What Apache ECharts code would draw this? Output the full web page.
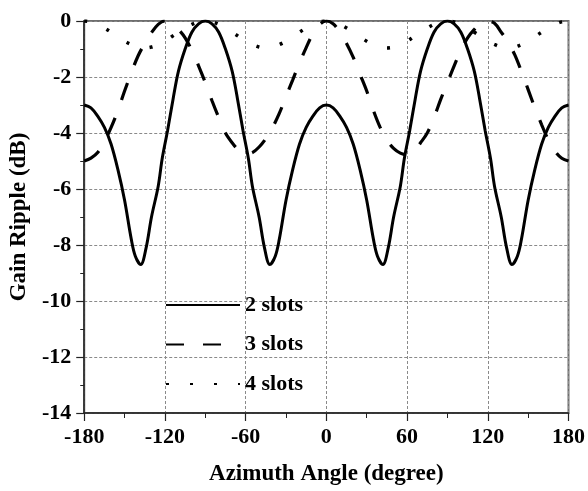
<!DOCTYPE html>
<html>
<head>
<meta charset="utf-8">
<script src="https://cdn.jsdelivr.net/npm/echarts@6/dist/echarts.min.js"></script>
<style>
  html, body { margin: 0; padding: 0; background: #fff; }
  #chart { width: 588px; height: 491px; }
</style>
</head>
<body>
<div id="chart"></div>
<script>
// angles (degree) for the 2-slot curve, denser near the dips
const angle2Slots = [
  -180, -175, -170, -165, -160, -155, -150, -145, -142, -138, -134, -130, -125, -122, -118, -114, -110, -105, -100, -95,
  -90, -85, -80, -75, -70, -66, -62, -58, -55, -50, -46, -42, -38, -35, -30, -25, -20, -15, -10, -5,
  0, 5, 10, 15, 20, 25, 30, 35, 38, 42, 46, 50, 55, 58, 62, 66, 70, 75, 80, 85,
  90, 95, 100, 105, 110, 114, 118, 122, 125, 130, 134, 138, 142, 145, 150, 155, 160, 165, 170, 175, 180
];
const ripple2Slots = [
  -3.0, -3.1, -3.4, -3.8, -4.4, -5.3, -6.4, -7.8, -8.4, -8.7, -8.1, -7.0, -5.9, -4.9, -3.9, -2.8, -1.8, -1.0, -0.4, -0.1,
  0, -0.1, -0.4, -1.0, -1.8, -2.8, -3.9, -4.9, -5.9, -7.0, -8.1, -8.7, -8.4, -7.8, -6.4, -5.3, -4.4, -3.8, -3.4, -3.1,
  -3.0, -3.1, -3.4, -3.8, -4.4, -5.3, -6.4, -7.8, -8.4, -8.7, -8.1, -7.0, -5.9, -4.9, -3.9, -2.8, -1.8, -1.0, -0.4, -0.1,
  0, -0.1, -0.4, -1.0, -1.8, -2.8, -3.9, -4.9, -5.9, -7.0, -8.1, -8.7, -8.4, -7.8, -6.4, -5.3, -4.4, -3.8, -3.4, -3.1, -3.0
];

// angles every 5 degree for the 3- and 4-slot curves
const angleStep5 = [
  -180, -175, -170, -165, -160, -155, -150, -145, -140, -135, -130, -125, -120, -115, -110, -105, -100, -95,
  -90, -85, -80, -75, -70, -65, -60, -55, -50, -45, -40, -35, -30, -25, -20, -15, -10, -5,
  0, 5, 10, 15, 20, 25, 30, 35, 40, 45, 50, 55, 60, 65, 70, 75, 80, 85,
  90, 95, 100, 105, 110, 115, 120, 125, 130, 135, 140, 145, 150, 155, 160, 165, 170, 175, 180
];
const ripple3Slots = [
  -5.0, -4.9, -4.7, -4.3, -3.8, -3.2, -2.5, -1.85, -1.25, -0.8, -0.42, -0.12, 0, -0.1, -0.3, -0.6, -1.05, -1.6,
  -2.2, -2.85, -3.45, -4.0, -4.35, -4.62, -4.75, -4.7, -4.5, -4.2, -3.8, -3.3, -2.7, -2.1, -1.5, -0.95, -0.45, -0.12,
  0, -0.1, -0.4, -0.8, -1.3, -1.9, -2.5, -3.2, -3.8, -4.25, -4.55, -4.72, -4.78, -4.65, -4.35, -4.0, -3.45, -2.8,
  -2.2, -1.6, -1.05, -0.6, -0.3, -0.08, 0, -0.08, -0.4, -0.75, -1.2, -1.8, -2.45, -3.1, -3.7, -4.25, -4.65, -4.9, -5.0
];
const ripple4Slots = [
  0, -0.03, -0.12, -0.25, -0.4, -0.56, -0.72, -0.84, -0.93, -0.96, -0.93, -0.84, -0.72, -0.56, -0.4, -0.25, -0.12, -0.03,
  0, -0.03, -0.12, -0.25, -0.4, -0.56, -0.72, -0.84, -0.93, -0.96, -0.93, -0.84, -0.72, -0.56, -0.4, -0.25, -0.12, -0.03,
  0, -0.03, -0.12, -0.25, -0.4, -0.56, -0.72, -0.84, -0.93, -0.96, -0.93, -0.84, -0.72, -0.56, -0.4, -0.25, -0.12, -0.03,
  0, -0.03, -0.12, -0.25, -0.4, -0.56, -0.72, -0.84, -0.93, -0.96, -0.93, -0.84, -0.72, -0.56, -0.4, -0.25, -0.12, -0.03, 0
];

const xTicks = [-180, 180, 60];
const yTicks = [-14, 0, 2];

const font = "'Liberation Serif', 'Times New Roman', serif";
const zip = (xs, ys) => xs.map((x, i) => [x, ys[i]]);

const chart = echarts.init(document.getElementById('chart'));

const gridLine = { show: true, lineStyle: { color: '#8a8a8a', width: 1, type: [3, 2] } };
const labelStyle = { fontFamily: font, fontWeight: 'bold', fontSize: 22, color: '#000' };

const option = {
  animation: false,
  backgroundColor: '#fff',
  grid: {
    left: 76, right: 19, top: 21, bottom: 74,
    show: true, borderColor: '#6e6e6e', borderWidth: 2
  },
  legend: {
    orient: 'vertical',
    left: 165,
    top: 293,
    padding: 0,
    itemWidth: 74,
    itemHeight: 14,
    itemGap: 15.5,
    itemStyle: { opacity: 0, borderWidth: 0 },
    textStyle: Object.assign({ lineHeight: 24 }, labelStyle),
    data: ['2 slots', '3 slots', '4 slots']
  },
  xAxis: {
    type: 'value',
    min: xTicks[0], max: xTicks[1], interval: xTicks[2],
    name: 'Azimuth Angle (degree)',
    nameLocation: 'middle',
    nameGap: 50,
    nameTextStyle: Object.assign({}, labelStyle, { fontSize: 23 }),
    axisLine: { onZero: false, lineStyle: { color: '#222', width: 1.5 } },
    axisTick: { show: true, inside: false, length: 8, lineStyle: { color: '#222', width: 1.2 } },
    minorTick: { show: true, splitNumber: 2, length: 5, lineStyle: { color: '#222', width: 1 } },
    axisLabel: Object.assign({ margin: 13 }, labelStyle),
    splitLine: gridLine
  },
  yAxis: {
    type: 'value',
    min: yTicks[0], max: yTicks[1], interval: yTicks[2],
    name: 'Gain Ripple (dB)',
    nameLocation: 'middle',
    nameGap: 40,
    nameTextStyle: Object.assign({}, labelStyle, { fontSize: 23 }),
    axisLine: { show: true, onZero: false, lineStyle: { color: '#222', width: 1.5 } },
    axisTick: { show: true, inside: false, length: 8, lineStyle: { color: '#222', width: 1.2 } },
    minorTick: { show: true, splitNumber: 2, length: 4, lineStyle: { color: '#222', width: 1 } },
    axisLabel: Object.assign({ margin: 13 }, labelStyle),
    splitLine: gridLine
  },
  series: [
    {
      name: '2 slots',
      type: 'line',
      data: zip(angle2Slots, ripple2Slots),
      smooth: 0.35,
      symbol: 'none',
      lineStyle: { color: '#000', width: 3, type: 'solid' },
      itemStyle: { color: '#000' }
    },
    {
      name: '3 slots',
      type: 'line',
      data: zip(angleStep5, ripple3Slots),
      smooth: 0.35,
      symbol: 'none',
      lineStyle: { color: '#000', width: 3.2, type: [18, 19] },
      itemStyle: { color: '#000' }
    },
    {
      name: '4 slots',
      type: 'line',
      data: zip(angleStep5, ripple4Slots),
      smooth: 0.35,
      symbol: 'none',
      lineStyle: { color: '#000', width: 3.5, type: [3, 21] },
      itemStyle: { color: '#000' }
    }
  ]
};

chart.setOption(option);
window.addEventListener('resize', () => chart.resize());
</script>
</body>
</html>
